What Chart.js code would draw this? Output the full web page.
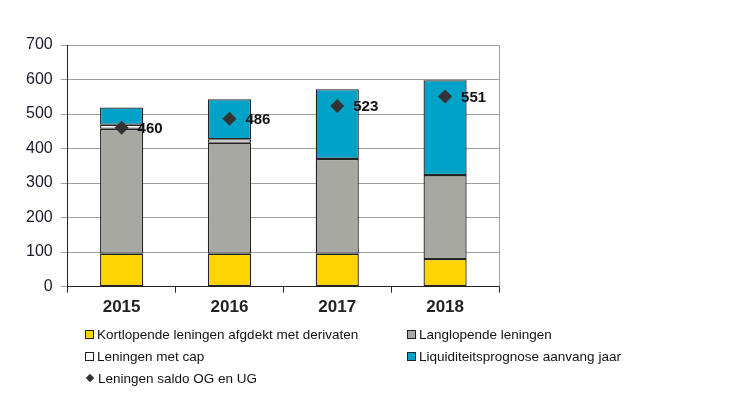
<!DOCTYPE html>
<html>
<head>
<meta charset="utf-8">
<script src="https://cdn.jsdelivr.net/npm/chart.js@4.4.0/dist/chart.umd.min.js"></script>
<style>
  html, body { margin: 0; padding: 0; background: #fff; }
  #wrap { position: relative; width: 730px; height: 394px; }
  #legend {
    position: absolute; left: 85px; top: 325px; width: 560px;
    display: grid; grid-template-columns: 322px 238px; row-gap: 4px;
    font-family: "Liberation Sans", Arial, sans-serif; font-size: 13.5px; color: #111;
  }
  .item { display: flex; align-items: center; height: 18px; white-space: nowrap; }
  .box { width: 7px; height: 7px; border: 1px solid #222; margin-right: 3px; }
  .dia { width: 6px; height: 6px; background: #333; transform: rotate(45deg); margin: 0 5px 0 2px; }
</style>
</head>
<body>
<div id="wrap">
  <canvas id="chart" width="730" height="394"></canvas>
  <div id="legend"></div>
</div>
<script>
// ---- data ----
const years = ['2015', '2016', '2017', '2018'];
const kortlopend = [95, 95, 95, 80];
const langlopend = [362, 322, 275, 243];
const metCap = [12, 10, 0, 0];
const liquiditeit = [50, 116, 202, 275];
const saldo = [460, 486, 523, 551];
const yTicks = [0, 100, 200, 300, 400, 500, 600, 700];

const FONT = '"Liberation Sans", Arial, sans-serif';

// labels next to the diamonds
const saldoLabels = {
    id: 'saldoLabels',
    afterDatasetsDraw(chart) {
        const ctx = chart.ctx;
        const meta = chart.getDatasetMeta(4);
        ctx.save();
        ctx.font = 'bold 15px ' + FONT;
        ctx.fillStyle = '#111';
        ctx.textBaseline = 'middle';
        meta.data.forEach((pt, i) => {
            ctx.fillText(saldo[i], pt.x + 16, pt.y + 1);
        });
        ctx.restore();
    }
};

// right border of the plot
const rightBorder = {
    id: 'rightBorder',
    beforeDatasetsDraw(chart) {
        const a = chart.chartArea;
        const ctx = chart.ctx;
        ctx.save();
        ctx.strokeStyle = '#a0a0a0';
        ctx.lineWidth = 1;
        ctx.beginPath();
        ctx.moveTo(Math.round(a.right) + 0.5, a.top);
        ctx.lineTo(Math.round(a.right) + 0.5, a.bottom);
        ctx.stroke();
        ctx.restore();
    }
};

const barStyle = { borderColor: '#222', borderWidth: 1.3, borderSkipped: false, stack: 'bars', order: 1 };

const chart = new Chart(document.getElementById('chart'), {
    data: {
        labels: years,
        datasets: [
            { type: 'bar', label: 'Kortlopende leningen afgdekt met derivaten', data: kortlopend,
              backgroundColor: '#FFD400', ...barStyle },
            { type: 'bar', label: 'Langlopende leningen', data: langlopend,
              backgroundColor: '#A8A8A2', ...barStyle },
            { type: 'bar', label: 'Leningen met cap', data: metCap,
              backgroundColor: '#FFFFFF', ...barStyle },
            { type: 'bar', label: 'Liquiditeitsprognose aanvang jaar', data: liquiditeit,
              backgroundColor: '#00A3C7', ...barStyle },
            { type: 'line', label: 'Leningen saldo OG en UG', data: saldo, stack: 'line', order: 0,
              showLine: false, pointStyle: 'rectRot', pointRadius: 7, pointHoverRadius: 7,
              backgroundColor: '#333', borderColor: '#333', borderWidth: 0 }
        ]
    },
    options: {
        responsive: false,
        animation: false,
        datasets: { bar: { categoryPercentage: 1, barPercentage: 0.4 } },
        layout: { padding: { left: 18, right: 231, top: 45, bottom: 71 } },
        plugins: { legend: { display: false }, tooltip: { enabled: false } },
        scales: {
            x: {
                stacked: true,
                grid: { display: true, drawOnChartArea: false, offset: true, tickLength: 6, color: '#222' },
                border: { color: '#222', width: 1 },
                ticks: { color: '#222', padding: 5, font: { family: FONT, size: 17, weight: 'bold' } }
            },
            y: {
                stacked: true,
                min: 0, max: 700,
                afterBuildTicks(scale) { scale.ticks = yTicks.map(v => ({ value: v })); },
                grid: { color: '#a0a0a0', tickLength: 7 },
                border: { color: '#222', width: 1 },
                ticks: { color: '#1a1a2a', padding: 8, font: { family: FONT, size: 16 } }
            }
        }
    },
    plugins: [saldoLabels, rightBorder]
});

// custom two-column legend
const legend = document.getElementById('legend');
[0, 1, 2, 3, 4].forEach(i => {
    const ds = chart.data.datasets[i];
    const item = document.createElement('div');
    item.className = 'item';
    const mark = document.createElement('span');
    if (ds.type === 'line') {
        mark.className = 'dia';
    } else {
        mark.className = 'box';
        mark.style.background = ds.backgroundColor;
    }
    item.appendChild(mark);
    item.appendChild(document.createTextNode(ds.label));
    legend.appendChild(item);
});
</script>
</body>
</html>
